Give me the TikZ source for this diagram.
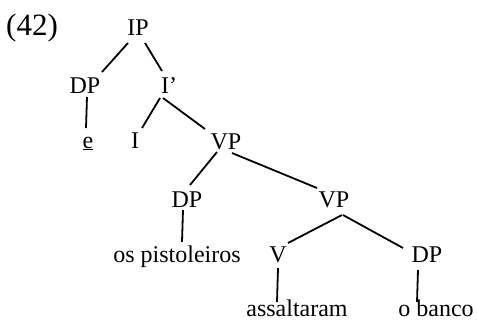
\documentclass[tikz,border=0pt]{standalone}
\usepackage{fontspec}
\setmainfont{Liberation Serif}
\usetikzlibrary{calc}
\begin{document}
\begin{tikzpicture}[x=1pt,y=-1pt,
  lbl/.style={anchor=base,inner sep=0pt,font=\fontsize{24}{28}\selectfont},
  br/.style={line width=1.8pt}]
\useasboundingbox (0,0) rectangle (477,322);
\node[anchor=base west,inner sep=0pt,font=\fontsize{31}{36}\selectfont] (num) at (6,35) {(42)};
\node[lbl] (IP) at (138,35) {IP};
\node[lbl] (DP1) at (85,93) {DP};
\node[lbl] (Ib) at (169,93) {I'};
\node[lbl] (e) at (88,148) {\underline{e}};
\node[lbl] (I) at (135,148) {I};
\node[lbl] (VP1) at (226,149) {VP};
\node[lbl] (DP2) at (187,207) {DP};
\node[lbl] (VP2) at (334,207) {VP};
\node[lbl] (os) at (177,262) {os pistoleiros};
\node[lbl] (V) at (278,262) {V};
\node[lbl] (DP3) at (427,262) {DP};
\node[lbl] (ass) at (297,316) {assaltaram};
\node[lbl] (ob) at (436,316) {o banco};
\draw[br] ($(IP.base)+(-10,8)$) -- ($(DP1.base)+(17,-21)$);
\draw[br] ($(IP.base)+(7,8)$) -- ($(Ib.base)+(-7,-22)$);
\draw[br] ($(DP1.base)+(2,4)$) -- ($(e.base)+(-2,-20)$);
\draw[br] ($(Ib.base)+(-9,5)$) -- ($(I.base)+(7,-20)$);
\draw[br] ($(Ib.base)+(-6,5)$) -- ($(VP1.base)+(-21,-20)$);
\draw[br] ($(VP1.base)+(-9,3)$) -- ($(DP2.base)+(3,-22)$);
\draw[br] ($(VP1.base)+(6,4)$) -- ($(VP2.base)+(-17,-19)$);
\draw[br] ($(DP2.base)+(-4,3)$) -- ($(os.base)+(5,-20)$);
\draw[br] ($(VP2.base)+(8,8)$) -- ($(V.base)+(10,-19)$);
\draw[br] ($(VP2.base)+(9,8)$) -- ($(DP3.base)+(-24,-14)$);
\draw[br] ($(V.base)+(0,6)$) -- ($(ass.base)+(-20,-14)$);
\draw[br] ($(DP3.base)+(-9,8)$) -- ($(ob.base)+(-19,-14)$);
\end{tikzpicture}
\end{document}
